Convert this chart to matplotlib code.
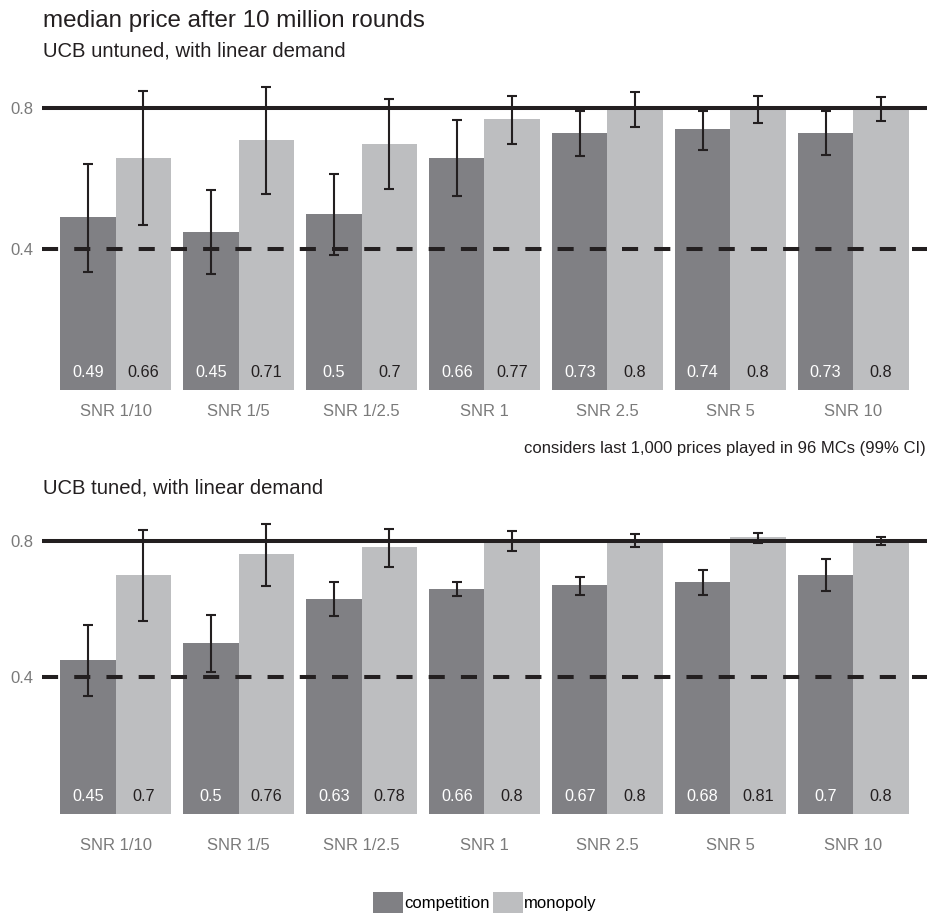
import numpy as np
import matplotlib.pyplot as plt
from matplotlib.patches import Patch

plt.rcParams['font.family'] = ['Liberation Sans', 'DejaVu Sans']

snr = ['SNR 1/10', 'SNR 1/5', 'SNR 1/2.5', 'SNR 1', 'SNR 2.5', 'SNR 5', 'SNR 10']

# untuned UCB: medians and 99% CI bounds
untuned_comp = [0.49, 0.45, 0.5, 0.66, 0.73, 0.74, 0.73]
untuned_comp_lo = [0.335, 0.329, 0.383, 0.552, 0.664, 0.681, 0.667]
untuned_comp_hi = [0.642, 0.568, 0.614, 0.768, 0.792, 0.792, 0.792]
untuned_mono = [0.66, 0.71, 0.7, 0.77, 0.8, 0.8, 0.8]
untuned_mono_lo = [0.468, 0.557, 0.571, 0.699, 0.747, 0.758, 0.764]
untuned_mono_hi = [0.85, 0.861, 0.825, 0.835, 0.847, 0.835, 0.832]

# tuned UCB
tuned_comp = [0.45, 0.5, 0.63, 0.66, 0.67, 0.68, 0.7]
tuned_comp_lo = [0.347, 0.417, 0.581, 0.639, 0.641, 0.641, 0.653]
tuned_comp_hi = [0.552, 0.583, 0.679, 0.679, 0.694, 0.715, 0.747]
tuned_mono = [0.7, 0.76, 0.78, 0.8, 0.8, 0.81, 0.8]
tuned_mono_lo = [0.566, 0.668, 0.723, 0.771, 0.78, 0.794, 0.787]
tuned_mono_hi = [0.831, 0.85, 0.834, 0.828, 0.82, 0.823, 0.81]

monopoly_price = 0.8
nash_price = 0.4

c_comp = '#808084'
c_mono = '#bdbec0'
c_ink = '#231f20'
c_tick = '#7a7a7a'

fig = plt.figure(figsize=(9.27, 9.13), dpi=100)
fig.patch.set_facecolor('white')

ax1 = fig.add_axes([0.0453, 0.5641, 0.9547, 0.3574])
ax2 = fig.add_axes([0.0453, 0.0887, 0.9547, 0.3538])


def draw_panel(ax, comp, comp_lo, comp_hi, mono, mono_lo, mono_hi, ylim):
    x = np.arange(1, len(snr) + 1)
    w = 0.45
    ax.bar(x - w / 2, comp, width=w, color=c_comp, zorder=1)
    ax.bar(x + w / 2, mono, width=w, color=c_mono, zorder=1)
    ax.axhline(monopoly_price, color=c_ink, lw=2.9, zorder=2)
    ax.axhline(nash_price, color=c_ink, lw=2.9, dashes=(4, 4), zorder=2)
    comp = np.array(comp)
    mono = np.array(mono)
    ax.errorbar(x - w / 2, comp,
                yerr=[comp - np.array(comp_lo), np.array(comp_hi) - comp],
                fmt='none', ecolor=c_ink, elinewidth=1.5, capsize=3.3,
                capthick=1.5, zorder=3)
    ax.errorbar(x + w / 2, mono,
                yerr=[mono - np.array(mono_lo), np.array(mono_hi) - mono],
                fmt='none', ecolor=c_ink, elinewidth=1.5, capsize=3.3,
                capthick=1.5, zorder=3)
    for xi, v in zip(x - w / 2, comp):
        ax.annotate(f'{v:g}', (xi, 0), xytext=(0, 12.5), textcoords='offset points',
                    ha='center', va='center', color='white', fontsize=11.7, zorder=4)
    for xi, v in zip(x + w / 2, mono):
        ax.annotate(f'{v:g}', (xi, 0), xytext=(0, 12.5), textcoords='offset points',
                    ha='center', va='center', color=c_ink, fontsize=11.7, zorder=4)
    ax.set_xlim(0.4, 7.6)
    ax.set_ylim(*ylim)
    ax.set_xticks(x)
    ax.set_xticklabels(snr)
    ax.set_yticks([0.4, 0.8])
    ax.set_yticklabels(['0.4', '0.8'])
    ax.tick_params(length=0, labelsize=12, labelcolor=c_tick)
    ax.tick_params(axis='x', pad=4)
    ax.tick_params(axis='y', pad=6.5)
    for s in ax.spines.values():
        s.set_visible(False)
    ax.set_facecolor('white')


draw_panel(ax1, untuned_comp, untuned_comp_lo, untuned_comp_hi,
           untuned_mono, untuned_mono_lo, untuned_mono_hi, (-0.0227, 0.904))
draw_panel(ax2, tuned_comp, tuned_comp_lo, tuned_comp_hi,
           tuned_mono, tuned_mono_lo, tuned_mono_hi, (-0.0517, 0.8925))

fig.text(0.0464, 0.9704, 'median price after 10 million rounds', fontsize=17.4,
         color=c_ink, va='baseline')
fig.text(0.0464, 0.9376, 'UCB untuned, with linear demand', fontsize=14.6,
         color=c_ink, va='baseline')
fig.text(0.999, 0.504, 'considers last 1,000 prices played in 96 MCs (99% CI)',
         fontsize=12, color=c_ink, ha='right', va='baseline')
fig.text(0.0464, 0.46, 'UCB tuned, with linear demand', fontsize=14.6,
         color=c_ink, va='baseline')

handles = [Patch(facecolor=c_comp, label='competition'),
           Patch(facecolor=c_mono, label='monopoly')]
fig.legend(handles=handles, loc='lower center', bbox_to_anchor=(0.523, 0.0),
           ncol=2, frameon=False, fontsize=12, handlelength=1.8, handleheight=1.55,
           handletextpad=0.1, columnspacing=0.15, borderpad=0.0, borderaxespad=0.0)

fig.savefig('out.png', dpi=100, facecolor='white')
